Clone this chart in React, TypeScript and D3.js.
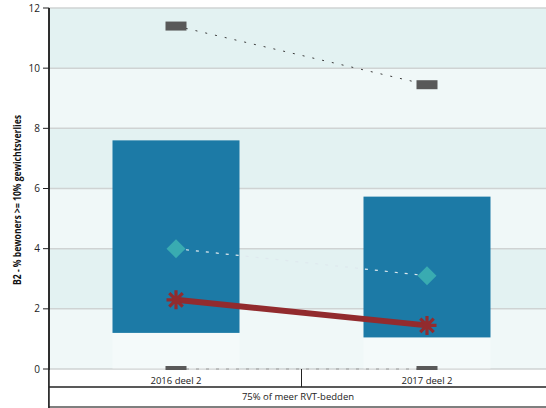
import React from "react";
import * as d3 from "d3";

const categories = ["2016 deel 2", "2017 deel 2"];
const barLow = [1.2, 1.05];
const barHigh = [7.6, 5.73];
const maxValues = [11.4, 9.45];
const minValues = [0, 0];
const meanValues = [4.0, 3.1];
const medianValues = [2.3, 1.45];
const yTicks = [0, 2, 4, 6, 8, 10, 12];
const groupLabel = "75% of meer RVT-bedden";
const yTitle = "B2 - % bewoners >= 10% gewichtsverlies";

const W = 546;
const H = 408;
const left = 49;
const top = 8;
const bottom = 369;
const font = "'Open Sans', 'DejaVu Sans', sans-serif";

export default function App() {
  const y = d3.scaleLinear().domain([0, 12]).range([bottom, top]);
  const x = d3.scaleBand().domain(categories).range([50.5, 552.5]);
  const bw = x.bandwidth();
  const cx = (c: string) => (x(c) as number) + bw / 2;
  const barW = bw * 0.506;

  const bands = [] as { lo: number; hi: number; dark: boolean }[];
  for (let i = 0; i < yTicks.length - 1; i++) {
    bands.push({ lo: yTicks[i], hi: yTicks[i + 1], dark: i % 2 === 1 });
  }

  const lineGen = d3
    .line<number>()
    .x((_, i) => cx(categories[i]))
    .y((d) => y(d));

  const asterisk = (px: number, py: number, r: number) => {
    const arms = [0, 45, 90, 135].map((a) => {
      const rad = (a * Math.PI) / 180;
      const dx = Math.cos(rad) * r;
      const dy = Math.sin(rad) * r;
      return `M${px - dx},${py - dy}L${px + dx},${py + dy}`;
    });
    return arms.join("");
  };

  return (
    <svg width={W} height={H} style={{ position: "absolute", left: 0, top: 0, display: "block" }}>
      <rect x={0} y={0} width={W} height={H} fill="#ffffff" />
      {/* background bands */}
      {bands.map((b, i) => (
        <rect
          key={i}
          x={left}
          y={y(b.hi)}
          width={W - left}
          height={y(b.lo) - y(b.hi)}
          fill={b.dark ? "#e3f2f2" : "#f0f8f8"}
        />
      ))}
      {/* gridlines */}
      {yTicks.map((t) => (
        <line key={t} x1={left} x2={W} y1={y(t)} y2={y(t)} stroke="#cfd3d3" strokeWidth={1.5} />
      ))}
      {/* faint lower bars */}
      {categories.map((c, i) => (
        <rect
          key={"lb" + c}
          x={cx(c) - barW / 2}
          y={y(barLow[i])}
          width={barW}
          height={y(minValues[i]) - y(barLow[i])}
          fill="#ffffff"
          opacity={0.3}
        />
      ))}
      {/* bars */}
      {categories.map((c, i) => (
        <rect
          key={"b" + c}
          x={cx(c) - barW / 2}
          y={y(barHigh[i])}
          width={barW}
          height={y(barLow[i]) - y(barHigh[i])}
          fill="#1c7aa6"
        />
      ))}
      {/* max line */}
      <path d={lineGen(maxValues) || ""} fill="none" stroke="#3c3c3c" strokeWidth={1} strokeDasharray="2,8" />
      {/* min line */}
      <path d={lineGen(minValues) || ""} fill="none" stroke="#9a9a9a" strokeWidth={1.2} strokeDasharray="3,7" />
      {/* mean line */}
      <path d={lineGen(meanValues) || ""} fill="none" stroke="#dfe9ee" strokeWidth={1.2} strokeDasharray="3,7" />
      {/* median line */}
      <path d={lineGen(medianValues) || ""} fill="none" stroke="#922b2e" strokeWidth={6} />
      {/* max/min markers */}
      {categories.map((c, i) => (
        <g key={"mm" + c}>
          <rect x={cx(c) - 10.5} y={y(maxValues[i]) - 4.5} width={21} height={9} fill="#595959" />
          <rect x={cx(c) - 10.5} y={y(minValues[i]) - 3} width={21} height={9} fill="#595959" />
        </g>
      ))}
      {/* mean diamonds */}
      {categories.map((c, i) => {
        const px = cx(c);
        const py = y(meanValues[i]);
        const r = 9.5;
        return (
          <path
            key={"d" + c}
            d={`M${px},${py - r}L${px + r},${py}L${px},${py + r}L${px - r},${py}Z`}
            fill="#39abb1"
          />
        );
      })}
      {/* median asterisks */}
      {categories.map((c, i) => (
        <path
          key={"a" + c}
          d={asterisk(cx(c), y(medianValues[i]), 9.5)}
          stroke="#922b2e"
          strokeWidth={3.2}
          fill="none"
        />
      ))}
      {/* y axis */}
      <line x1={left} x2={left} y1={top} y2={H} stroke="#222" strokeWidth={1.5} />
      {yTicks.map((t) => (
        <g key={"t" + t}>
          <line x1={left - 6} x2={left} y1={y(t)} y2={y(t)} stroke="#222" strokeWidth={1} />
          <text x={left - 9} y={y(t) + 3.5} textAnchor="end" fontSize={10} fontFamily={font} fill="#222">
            {t}
          </text>
        </g>
      ))}
      <text
        transform={`translate(21,200) rotate(-90)`}
        textAnchor="middle"
        fontSize={10}
        fontWeight="bold"
        fontFamily={font}
        fill="#111"
        textLength={170}
        lengthAdjust="spacingAndGlyphs"
      >
        {yTitle}
      </text>
      {/* x axis */}
      <rect x={left} y={bottom + 1} width={W - left} height={H - bottom} fill="#ffffff" />
      {categories.map((c) => (
        <text key={"xl" + c} x={cx(c)} y={384} textAnchor="middle" fontSize={9.5} fontFamily={font} fill="#222">
          {c}
        </text>
      ))}
      <line x1={x(categories[1]) as number} x2={x(categories[1]) as number} y1={bottom} y2={387} stroke="#222" strokeWidth={1} />
      <line x1={left} x2={W} y1={387} y2={387} stroke="#222" strokeWidth={1.5} />
      <text x={298} y={400} textAnchor="middle" fontSize={9.5} fontFamily={font} fill="#222">
        {groupLabel}
      </text>
      <line x1={left} x2={W} y1={407} y2={407} stroke="#555" strokeWidth={1.5} />
      <line x1={left} x2={left} y1={top} y2={H} stroke="#222" strokeWidth={1.5} />
    </svg>
  );
}
